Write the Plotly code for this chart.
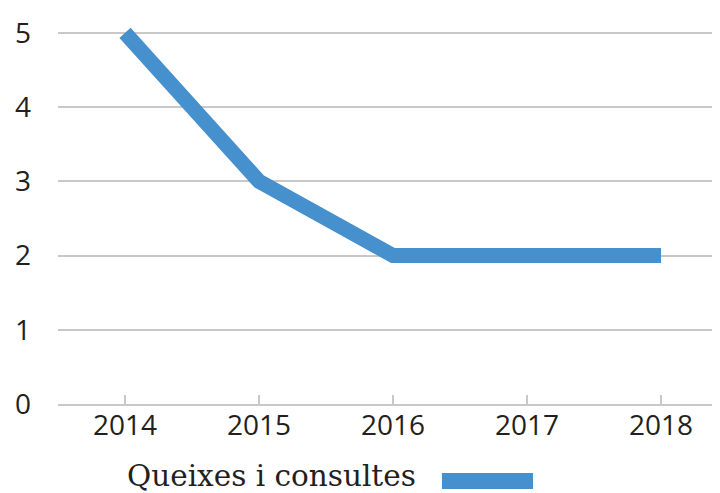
import plotly.graph_objects as go

years = ["2014", "2015", "2016", "2017", "2018"]
values = [5, 3, 2, 2, 2]
series_name = "Queixes i consultes"
y_ticks = [0, 1, 2, 3, 4, 5]

blue = "#4590cd"
grid = "#c8c8c8"

fig = go.Figure()
fig.add_trace(go.Scatter(
    x=years, y=values, mode="lines", name=series_name,
    line=dict(color=blue, width=15), showlegend=False,
))

# legend (text followed by swatch)
fig.add_annotation(
    x=0.1012, y=-0.1865, xref="paper", yref="paper",
    xanchor="left", yanchor="middle", showarrow=False,
    text=series_name,
    font=dict(family="DejaVu Serif", size=29.5, color="#231f20"),
)
fig.add_shape(
    type="rect", xref="paper", yref="paper",
    x0=0.580, x1=0.7175, y0=-0.2202, y1=-0.1788,
    fillcolor=blue, line=dict(width=0),
)

fig.update_layout(
    width=712, height=485,
    margin=dict(l=50, r=0, t=10, b=89),
    paper_bgcolor="white", plot_bgcolor="white",
    font=dict(family="Open Sans", size=28, color="#231f20"),
    xaxis=dict(
        type="category", range=[-0.5, 4.44],
        showgrid=False, showline=True, linecolor=grid, linewidth=1.5,
        ticks="inside", ticklen=9, tickcolor=grid, tickwidth=1.5,
        tickfont=dict(size=28), ticklabelstandoff=-4,
    ),
    yaxis=dict(
        range=[0, 5.2], tickvals=y_ticks,
        showgrid=True, gridcolor=grid, gridwidth=1.5,
        zeroline=False, showline=False,
        tickfont=dict(size=28), ticklabelstandoff=26,
    ),
)

fig.write_html("out.html")
